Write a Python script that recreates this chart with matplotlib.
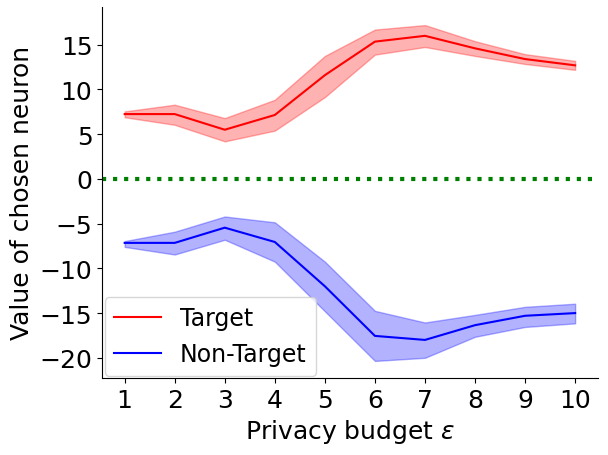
import numpy as np
import matplotlib.pyplot as plt

eps = [1, 2, 3, 4, 5, 6, 7, 8, 9, 10]
target_mean = [7.25, 7.25, 5.5, 7.15, 11.6, 15.35, 16.0, 14.6, 13.4, 12.7]
target_low = [6.9, 6.05, 4.2, 5.4, 9.15, 13.9, 14.75, 13.75, 12.85, 12.2]
target_high = [7.55, 8.3, 6.8, 8.85, 13.75, 16.7, 17.2, 15.4, 13.95, 13.2]
nontarget_mean = [-7.15, -7.15, -5.45, -7.05, -12.0, -17.55, -18.0, -16.35, -15.3, -15.0]
nontarget_low = [-7.6, -8.45, -6.8, -9.25, -14.8, -20.35, -20.0, -17.65, -16.55, -16.15]
nontarget_high = [-6.95, -5.9, -4.2, -4.85, -9.25, -14.75, -16.05, -15.2, -14.3, -13.95]

fig = plt.figure(figsize=(6.08, 4.56), dpi=100)
ax = fig.add_axes([0.168, 0.169, 0.815, 0.814])

ax.plot(eps, target_mean, color='red', label='Target')
ax.fill_between(eps, target_low, target_high, color='red', alpha=0.3)
ax.plot(eps, nontarget_mean, color='blue', label='Non-Target')
ax.fill_between(eps, nontarget_low, nontarget_high, color='blue', alpha=0.3)
ax.axhline(0, color='green', linestyle=':', linewidth=3)

ax.set_xticks(eps)
ax.set_yticks([-20, -15, -10, -5, 0, 5, 10, 15])
ax.set_ylim(-22.25, 19.25)
ax.tick_params(labelsize=18)
ax.set_xlabel('Privacy budget $\\epsilon$', fontsize=18)
ax.set_ylabel('Value of chosen neuron', fontsize=18)
ax.spines['top'].set_visible(False)
ax.spines['right'].set_visible(False)
ax.legend(loc='lower left', fontsize=17, borderaxespad=0.1)

fig.savefig('out.png', dpi=100)
